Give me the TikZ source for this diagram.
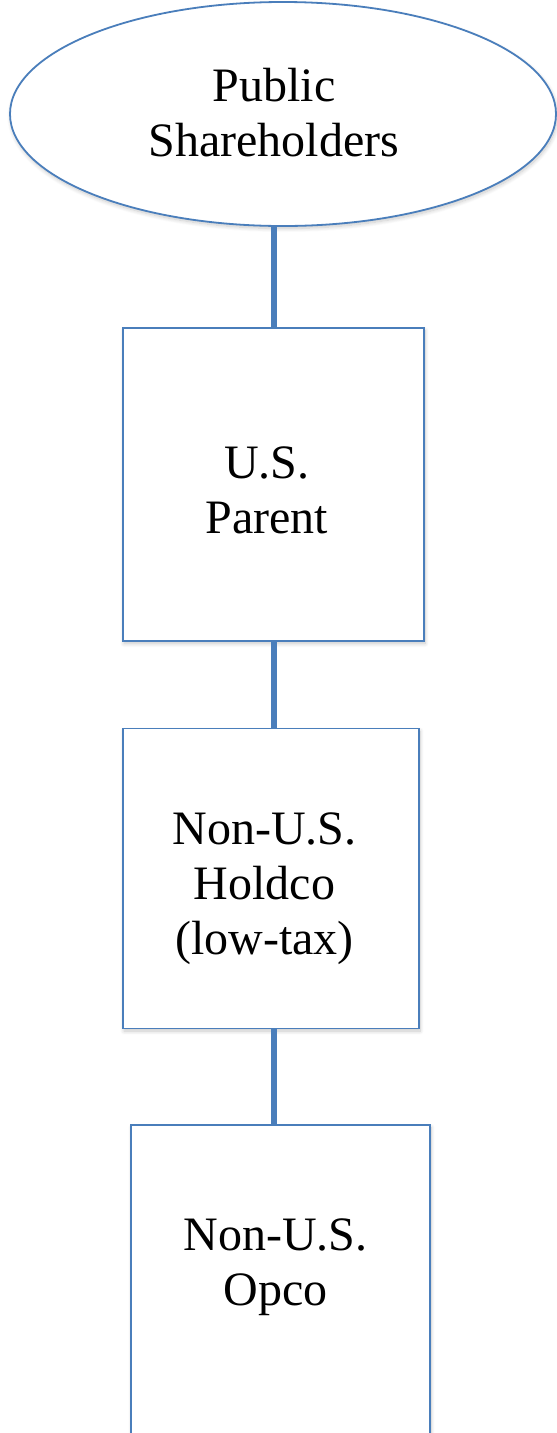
\documentclass[tikz,border=0pt]{standalone}
\usepackage{fontspec}
\setmainfont{Liberation Serif}
\usetikzlibrary{shapes.geometric,shadows.blur}
\definecolor{ob}{HTML}{4A7EBB}
\begin{document}
\begin{tikzpicture}[x=1pt,y=-1pt,
  shp/.style={draw=ob, line width=1.8pt, fill=white, inner sep=0pt,
    blur shadow={shadow blur steps=10, shadow xshift=1pt, shadow yshift=-2.5pt, shadow opacity=22, shadow blur radius=4pt}},
  boxshape/.style={shp, rectangle},
  lbl/.style={font=\fontsize{48}{55}\selectfont, align=center, inner sep=0pt},
  link/.style={draw=ob, line width=6pt}]
\useasboundingbox (0,0) rectangle (557,1433);
\clip (0,0) rectangle (557,1433);
\coordinate (cx) at (274,0);
% shapes
\node[shp, ellipse, minimum width=546pt, minimum height=224pt] (pub) at (283,114) {};
\node[boxshape, minimum width=301pt, minimum height=313pt] (b1) at (273.5,484.5) {};
\node[boxshape, minimum width=296pt, minimum height=300pt] (b2) at (271,878.5) {};
\node[boxshape, minimum width=299pt, minimum height=330pt] (b3) at (280.5,1290) {};
% connectors
\draw[link] (cx |- pub.south) -- (cx |- b1.north);
\draw[link] (cx |- b1.south) -- (cx |- b2.north);
\draw[link] (cx |- b2.south) -- (cx |- b3.north);
% labels
\node[lbl] (tpub) at (274,112.5) {Public\\Shareholders};
\node[lbl] (tb1) at (267,490) {U.S.\\Parent};
\node[lbl] (tb2) at (264.5,888.5) {Non-U.S.\\Holdco\\(low-tax)};
\node[lbl] (tb3) at (275.5,1267) {Non-U.S.\\Opco};
\end{tikzpicture}
\end{document}
